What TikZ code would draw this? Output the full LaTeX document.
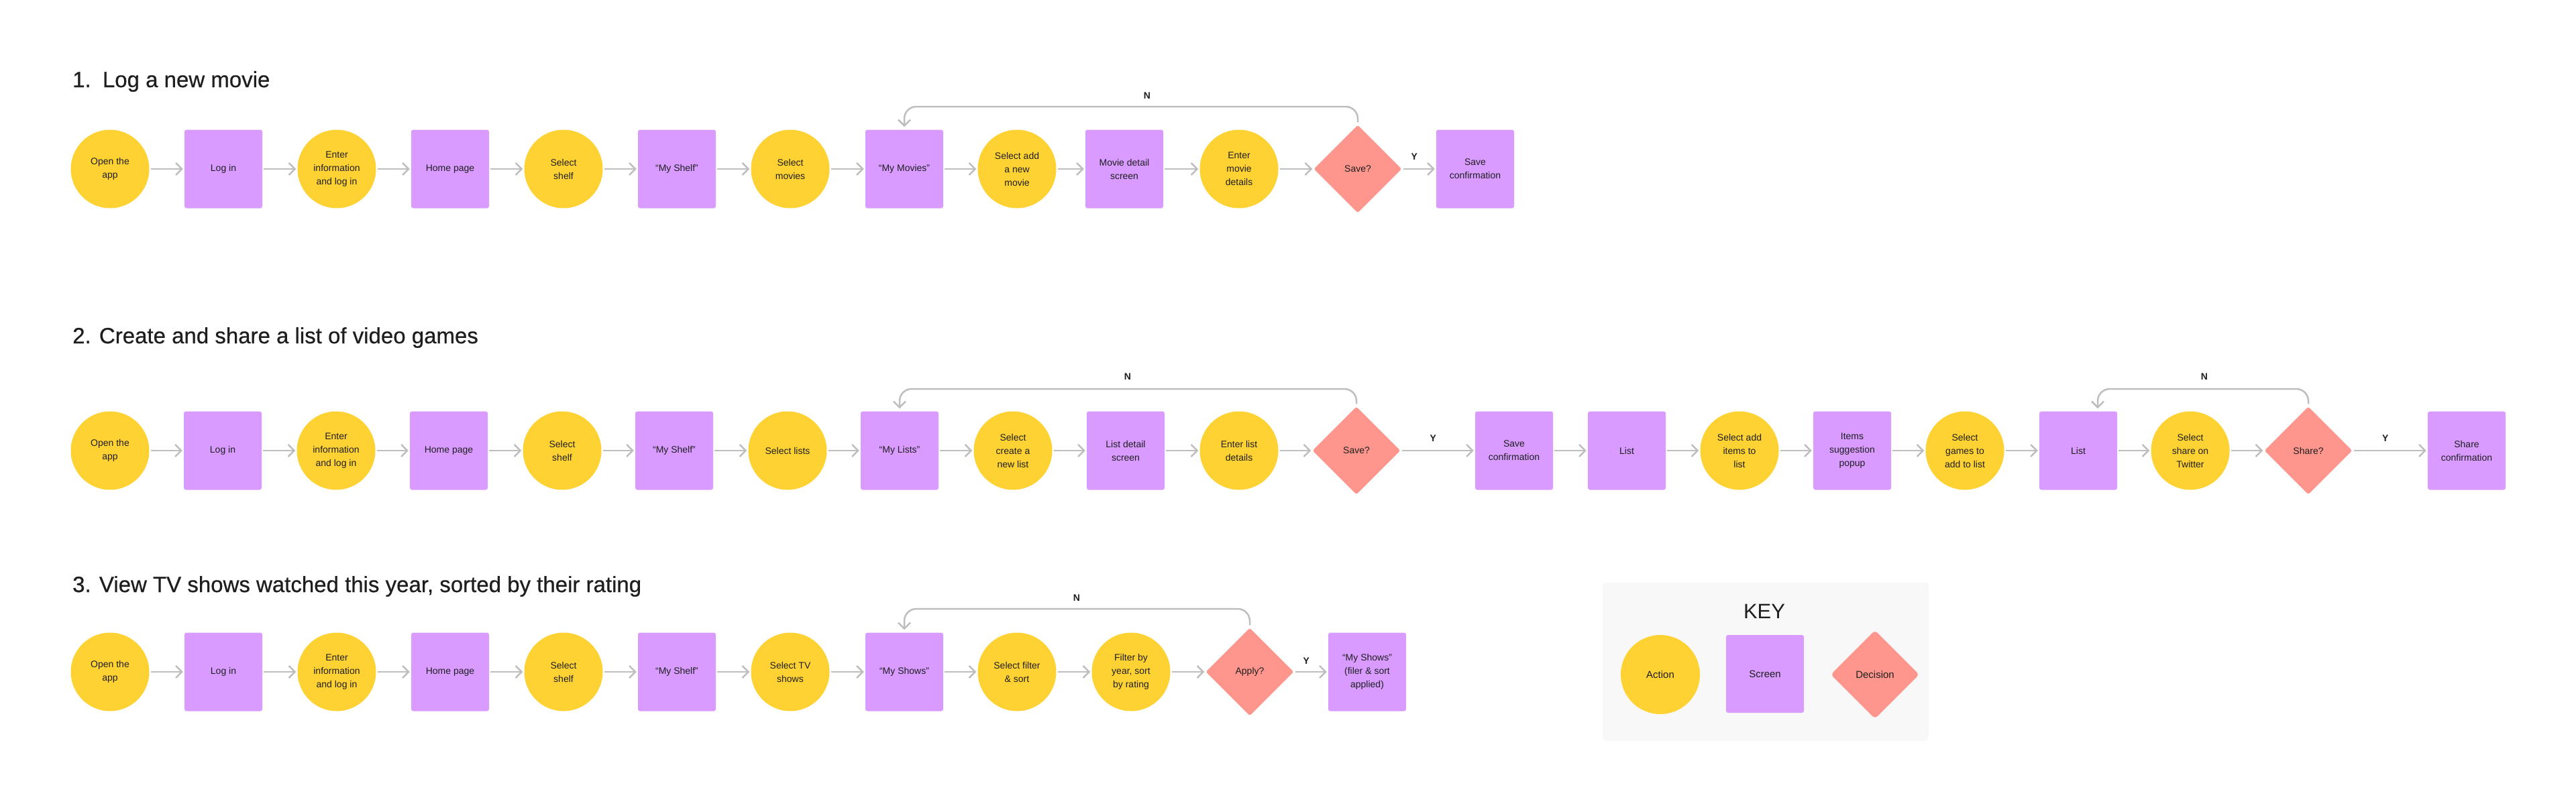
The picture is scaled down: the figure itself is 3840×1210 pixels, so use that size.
\documentclass[tikz,border=0pt]{standalone}
\usepackage{fontspec}
\setmainfont{Liberation Sans}
\newfontfamily\ttlfont[FakeBold=0.6]{Liberation Sans}
\usetikzlibrary{shapes.geometric,arrows.meta}
\definecolor{actc}{HTML}{FFD234}
\definecolor{scrc}{HTML}{D99BFF}
\definecolor{decc}{HTML}{FF968D}
\definecolor{flowc}{HTML}{BEBEBE}
\definecolor{txt}{HTML}{1E1E1E}
\definecolor{keybg}{HTML}{F8F8F8}
\begin{document}
\begin{tikzpicture}[x=1pt,y=-1pt,
 base/.style={inner sep=0pt, align=center, text=txt, font=\fontsize{14}{20}\selectfont},
 act/.style={base, circle, fill=actc, minimum size=117pt},
 scr/.style={base, rectangle, rounded corners=3pt, fill=scrc, minimum width=116pt, minimum height=117pt},
 dec/.style={base, diamond, fill=decc, minimum width=131pt, minimum height=131pt, rounded corners=3pt},
 flow/.style={draw=flowc, line width=2.5pt, -{Straight Barb[length=9pt,width=18pt]}, shorten >=2pt, shorten <=2pt},
 loopback/.style={flow, rounded corners=18pt, shorten <=4pt, shorten >=4pt},
 lab/.style={font=\bfseries\fontsize{14}{16}\selectfont, text=txt, inner sep=0pt},
 ttl/.style={anchor=base west, font=\ttlfont\fontsize{33}{40}\selectfont, text=txt, inner sep=0pt}
]
\useasboundingbox[fill=white] (0,0) rectangle (3840,1210);

% ---------- Titles ----------
\node[ttl] (t1) at (108,130) {1.\hspace{5pt} Log a new movie};
\node[ttl] (t2) at (108,512) {2. Create and share a list of video games};
\node[ttl] (t3) at (108,883) {3. View TV shows watched this year, sorted by their rating};

% ---------- Row 1 ----------
\node[act] (a1) at (164,252) {Open the\\app};
\node[scr] (a2) at (333,252) {Log in};
\node[act] (a3) at (502,252) {Enter\\information\\and log in};
\node[scr] (a4) at (671,252) {Home page};
\node[act] (a5) at (840,252) {Select\\shelf};
\node[scr] (a6) at (1009,252) {“My Shelf”};
\node[act] (a7) at (1178,252) {Select\\movies};
\node[scr] (a8) at (1348,252) {“My Movies”};
\node[act] (a9) at (1516,252) {Select add\\a new\\movie};
\node[scr] (a10) at (1676,252) {Movie detail\\screen};
\node[act] (a11) at (1847,252) {Enter\\movie\\details};
\node[dec] (a12) at (2024,252) {Save?};
\node[scr] (a13) at (2199,252) {Save\\confirmation};

\foreach \p/\q in {a1/a2,a2/a3,a3/a4,a4/a5,a5/a6,a6/a7,a7/a8,a8/a9,a9/a10,a10/a11,a11/a12}
  \draw[flow] (\p) -- (\q);
\draw[flow] (a12) -- node[lab, above=12pt, xshift=-7pt] {Y} (a13);
\draw[loopback] (a12.north) -- (a12.north |- 0,159) -- (a8.north |- 0,159) -- (a8.north);
\node[lab] (n1) at (1710,143) {N};

% ---------- Row 2 ----------
\node[act] (b1) at (164,672) {Open the\\app};
\node[scr] (b2) at (332,672) {Log in};
\node[act] (b3) at (501,672) {Enter\\information\\and log in};
\node[scr] (b4) at (669,672) {Home page};
\node[act] (b5) at (838,672) {Select\\shelf};
\node[scr] (b6) at (1005,672) {“My Shelf”};
\node[act] (b7) at (1174,672) {Select lists};
\node[scr] (b8) at (1341,672) {“My Lists”};
\node[act] (b9) at (1510,672) {Select\\create a\\new list};
\node[scr] (b10) at (1678,672) {List detail\\screen};
\node[act] (b11) at (1847,672) {Enter list\\details};
\node[dec] (b12) at (2022,672) {Save?};
\node[scr] (b13) at (2257,672) {Save\\confirmation};
\node[scr] (b14) at (2425,672) {List};
\node[act] (b15) at (2593,672) {Select add\\items to\\list};
\node[scr] (b16) at (2761,672) {Items\\suggestion\\popup};
\node[act] (b17) at (2929,672) {Select\\games to\\add to list};
\node[scr] (b18) at (3098,672) {List};
\node[act] (b19) at (3265,672) {Select\\share on\\Twitter};
\node[dec] (b20) at (3441,672) {Share?};
\node[scr] (b21) at (3677,672) {Share\\confirmation};

\foreach \p/\q in {b1/b2,b2/b3,b3/b4,b4/b5,b5/b6,b6/b7,b7/b8,b8/b9,b9/b10,b10/b11,b11/b12,b13/b14,b14/b15,b15/b16,b16/b17,b17/b18,b18/b19,b19/b20}
  \draw[flow] (\p) -- (\q);
\draw[flow] (b12) -- node[lab, above=12pt, xshift=-7pt] {Y} (b13);
\draw[flow] (b20) -- node[lab, above=12pt, xshift=-7pt] {Y} (b21);
\draw[loopback] (b12.north) -- (b12.north |- 0,580) -- (b8.north |- 0,580) -- (b8.north);
\node[lab] (n2) at (1681,562) {N};
\coordinate (b18in) at ([xshift=29pt]b18.north);
\draw[loopback] (b20.north) -- (b20.north |- 0,580) -- (b18in |- 0,580) -- (b18in);
\node[lab] (n3) at (3286,562) {N};

% ---------- Row 3 ----------
\node[act] (c1) at (164,1002) {Open the\\app};
\node[scr] (c2) at (333,1002) {Log in};
\node[act] (c3) at (502,1002) {Enter\\information\\and log in};
\node[scr] (c4) at (671,1002) {Home page};
\node[act] (c5) at (840,1002) {Select\\shelf};
\node[scr] (c6) at (1009,1002) {“My Shelf”};
\node[act] (c7) at (1178,1002) {Select TV\\shows};
\node[scr] (c8) at (1348,1002) {“My Shows”};
\node[act] (c9) at (1516,1002) {Select filter\\\& sort};
\node[act] (c10) at (1686,1002) {Filter by\\year, sort\\by rating};
\node[dec] (c11) at (1863,1002) {Apply?};
\node[scr] (c12) at (2038,1002) {“My Shows”\\(filer \& sort\\applied)};

\foreach \p/\q in {c1/c2,c2/c3,c3/c4,c4/c5,c5/c6,c6/c7,c7/c8,c8/c9,c9/c10,c10/c11}
  \draw[flow] (\p) -- (\q);
\draw[flow] (c11) -- node[lab, above=10pt, xshift=-7pt] {Y} (c12);
\draw[loopback] (c11.north) -- (c11.north |- 0,908) -- (c8.north |- 0,908) -- (c8.north);
\node[lab] (n4) at (1605,892) {N};

% ---------- Key ----------
\node[fill=keybg, rounded corners=6pt, minimum width=486pt, minimum height=236pt, inner sep=0pt] (key) at (2632,987) {};
\node[anchor=base, font=\fontsize{31}{36}\selectfont, text=txt, inner sep=0pt] (keyt) at (2630,922) {KEY};
\node[act, minimum size=118pt, font=\fontsize{15}{20}\selectfont] (k1) at (2475,1006) {Action};
\node[scr, minimum height=116pt, font=\fontsize{15}{20}\selectfont] (k2) at (2631,1005) {Screen};
\node[dec, minimum width=132pt, minimum height=132pt, rounded corners=5pt, font=\fontsize{15}{20}\selectfont] (k3) at (2795,1006) {Decision};
\end{tikzpicture}
\end{document}
